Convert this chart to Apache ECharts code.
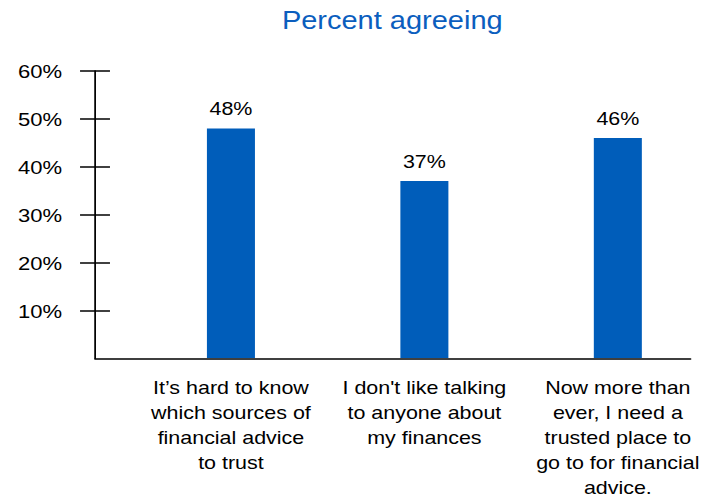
<!DOCTYPE html>
<html>
<head>
<meta charset="utf-8">
<script src="https://cdn.jsdelivr.net/npm/echarts@6/dist/echarts.min.js"></script>
<style>
  html, body { margin: 0; padding: 0; background: #fff; overflow: hidden; }
  /* the chart is laid out on a narrower canvas and widened horizontally */
  #chart { width: 615.5px; height: 500px; transform: scaleX(1.16); transform-origin: 0 0; }
</style>
</head>
<body>
<div id="chart"></div>
<script>
const categories = [
  'It\u2019s hard to know\nwhich sources of\nfinancial advice\nto trust',
  'I don\'t like talking\nto anyone about\nmy finances',
  'Now more than\never, I need a\ntrusted place to\ngo to for financial\nadvice.'
];
const agreeing = [48, 37, 46];
const tickValues = [10, 20, 30, 40, 50, 60];

const FONT = '"Liberation Sans", Arial, sans-serif';
const BAR_BLUE = '#005DBA';
const TITLE_BLUE = '#0B5EBE';

const chart = echarts.init(document.getElementById('chart'), null, { renderer: 'svg' });

chart.setOption({
  animation: false,
  title: {
    text: 'Percent agreeing',
    left: 238,
    top: 3,
    textStyle: { fontFamily: FONT, fontSize: 25, fontWeight: 'normal', color: TITLE_BLUE }
  },
  grid: [
    // bars and category labels
    { left: 115.7, right: -0.7, top: 71, bottom: 141.5, containLabel: false },
    // visible axis frame
    { left: 81.9, right: 20.7, top: 71, bottom: 141.5, containLabel: false }
  ],
  xAxis: [
    {
      gridIndex: 0,
      type: 'category',
      data: categories,
      axisLine: { show: false },
      axisTick: { show: false },
      axisLabel: {
        interval: 0,
        margin: 17,
        fontFamily: FONT,
        fontSize: 18.5,
        lineHeight: 25,
        color: '#000',
        align: 'center'
      }
    },
    {
      gridIndex: 1,
      type: 'value',
      min: 0,
      max: 1,
      axisLine: { show: true, onZero: false, lineStyle: { color: '#000', width: 1.5 } },
      axisTick: { show: false },
      axisLabel: { show: false },
      splitLine: { show: false }
    }
  ],
  yAxis: [
    {
      gridIndex: 0,
      type: 'value',
      min: 0,
      max: 60,
      show: false
    },
    {
      gridIndex: 1,
      type: 'value',
      position: 'left',
      min: 0,
      max: 60,
      interval: 10,
      axisLine: { show: true, onZero: false, lineStyle: { color: '#000', width: 1.5 } },
      axisTick: { show: true, length: 12.9, customValues: tickValues, lineStyle: { color: '#000', width: 1.5 } },
      axisLabel: {
        customValues: tickValues,
        margin: 28.4,
        formatter: '{value}%',
        fontFamily: FONT,
        fontSize: 19,
        color: '#000'
      },
      splitLine: { show: false }
    },
    {
      // inner half of the crossing tick marks
      gridIndex: 1,
      type: 'value',
      position: 'left',
      offset: 0,
      min: 0,
      max: 60,
      interval: 10,
      axisLine: { show: false, onZero: false },
      axisTick: { show: true, inside: true, length: 12.9, customValues: tickValues, lineStyle: { color: '#000', width: 1.5 } },
      axisLabel: { show: false },
      splitLine: { show: false }
    }
  ],
  series: [
    {
      type: 'bar',
      xAxisIndex: 0,
      yAxisIndex: 0,
      data: agreeing,
      barWidth: 41.4,
      itemStyle: { color: BAR_BLUE },
      label: {
        show: true,
        position: 'top',
        distance: 10,
        formatter: '{c}%',
        fontFamily: FONT,
        fontSize: 18.5,
        color: '#000'
      }
    }
  ]
});
</script>
</body>
</html>
